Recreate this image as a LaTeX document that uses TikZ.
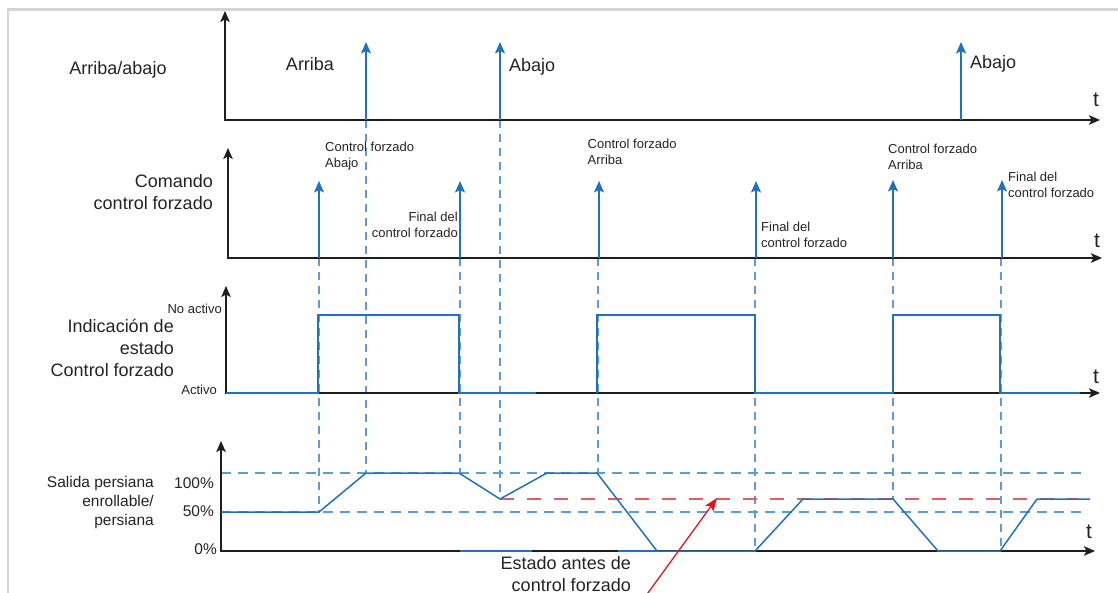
\documentclass[tikz,border=0pt]{standalone}
\usepackage{fontspec}
\setmainfont{Liberation Sans}
\usetikzlibrary{arrows.meta}
\definecolor{bl}{RGB}{33,114,190}
\definecolor{bll}{RGB}{95,155,212}
\definecolor{axc}{RGB}{30,30,30}
\definecolor{txt}{RGB}{35,35,35}
\definecolor{rd}{RGB}{228,20,35}
\definecolor{rdl}{RGB}{232,90,100}
\definecolor{frm}{RGB}{212,212,212}
\tikzset{
  axisline/.style={draw=axc, line width=1.7pt, {Stealth[length=11pt,width=9.5pt,inset=2.5pt]}-{Stealth[length=11pt,width=9.5pt,inset=2.5pt]}},
  pulse/.style={draw=bl, line width=1.6pt, -{Stealth[length=11.5pt,width=10pt,inset=2.5pt]}},
  guide/.style={draw=bll, line width=1.2pt, dash pattern=on 8pt off 6pt},
  hguide/.style={draw=bll, line width=1.2pt, dash pattern=on 10pt off 7pt},
  sig/.style={draw=bl, line width=1.5pt, line join=miter},
  reddash/.style={draw=rdl, line width=1.2pt, dash pattern=on 14pt off 13pt},
  big/.style={font=\fontsize{18}{22}\selectfont, text=txt, inner sep=0pt},
  mid/.style={font=\fontsize{15.5}{19}\selectfont, text=txt, inner sep=0pt},
  small/.style={font=\fontsize{13}{16}\selectfont, text=txt, inner sep=0pt},
  tlab/.style={font=\fontsize{21}{24}\selectfont, text=txt, inner sep=0pt},
}
\begin{document}
\begin{tikzpicture}[x=1pt,y=-1pt]
\useasboundingbox (0,0) rectangle (1118,593);
% frame
\draw[frm, line width=2.5pt] (8,593) -- (8,9.5) -- (1118,9.5);

% ---------- coordinates ----------
\coordinate (o1) at (225,120); \coordinate (y1) at (225,11); \coordinate (x1) at (1100,120);
\coordinate (o2) at (228,258); \coordinate (y2) at (228,148); \coordinate (x2) at (1102,258);
\coordinate (o3) at (226,393); \coordinate (y3) at (226,286); \coordinate (x3) at (1100,393);
\coordinate (o4) at (221,551); \coordinate (y4) at (221,441); \coordinate (x4) at (1095,551);

% ---------- guides (behind) ----------
\draw[guide] (319,258) coordinate (g1a) -- (319,512) coordinate (g1b);
\draw[guide] (366,120) coordinate (g2a) -- (366,473) coordinate (g2b);
\draw[guide] (460,258) coordinate (g3a) -- (460,473) coordinate (g3b);
\draw[guide] (500,120) coordinate (g4a) -- (500,499) coordinate (g4b);
\draw[guide] (598,258) coordinate (g5a) -- (598,473) coordinate (g5b);
\draw[guide] (755,258) coordinate (g6a) -- (755,551) coordinate (g6b);
\draw[guide] (893,258) coordinate (g7a) -- (893,499) coordinate (g7b);
\draw[guide] (1001,258) coordinate (g8a) -- (1001,551) coordinate (g8b);
\draw[hguide] (221,473) coordinate (h1a) -- (1081,473) coordinate (h1b);
\draw[hguide] (221,512) coordinate (h2a) -- (1081,512) coordinate (h2b);
\draw[reddash] (500,499) coordinate (r1a) -- (1078,499) coordinate (r1b);

% ---------- axes ----------
\draw[axisline] (y1) -- (o1) -- (x1);
\draw[axisline] (y2) -- (o2) -- (x2);
\draw[axisline] (y3) -- (o3) -- (x3);
\draw[axisline] (y4) -- (o4) -- (x4);

% ---------- panel 1 pulses ----------
\draw[pulse] (366,120) coordinate (p1a) -- (366,42) coordinate (p1b);
\draw[pulse] (500,120) coordinate (p2a) -- (500,42) coordinate (p2b);
\draw[pulse] (961,120) coordinate (p3a) -- (961,42) coordinate (p3b);

% ---------- panel 2 pulses ----------
\draw[pulse] (319,258) coordinate (q1a) -- (319,181) coordinate (q1b);
\draw[pulse] (460,258) coordinate (q2a) -- (460,181) coordinate (q2b);
\draw[pulse] (599,258) coordinate (q3a) -- (599,181) coordinate (q3b);
\draw[pulse] (756,258) coordinate (q4a) -- (756,181) coordinate (q4b);
\draw[pulse] (893,258) coordinate (q5a) -- (893,180) coordinate (q5b);
\draw[pulse] (1002,258) coordinate (q6a) -- (1002,180) coordinate (q6b);

% ---------- panel 3 signal ----------
\draw[sig] (226,393) -- (318,393) -- (318,315) -- (459,315) -- (459,393) -- (536,393);
\draw[sig] (597,393) -- (597,315) -- (755,315) -- (755,393) -- (893,393) -- (893,315) -- (1000,315) -- (1000,393) -- (1080,393);

% ---------- panel 4 signal ----------
\draw[sig] (221,512) -- (319,512) -- (366,473) -- (459,473) -- (500,499) -- (547,473) -- (597,473) -- (657,551) -- (755,551) -- (803,499) -- (893,499) -- (938,551) -- (1000,551) -- (1037,499) -- (1090,499);
\draw[sig] (460,551) -- (532,551);
\draw[sig] (618,551) -- (657,551);

% red arrow
\coordinate (ra) at (645,597);
\coordinate (rb) at (717,498);
\draw[rd, line width=1.3pt, -{Stealth[length=13pt,width=10pt,inset=2.5pt]}] (ra) -- (rb);

% ---------- labels ----------
\node[big] (lab1) at (118,70) {Arriba/abajo};
\node[big] (arr1) at (310,64) {Arriba};
\node[big, anchor=west] (aba1) at (509,67) {Abajo};
\node[big, anchor=west] (aba2) at (970,64) {Abajo};
\node[tlab, anchor=west] (t1) at (1093,100) {t};

\node[big, anchor=east, align=right] (lab2) at (213,192) {Comando\\control forzado};
\node[tlab, anchor=west] (t2) at (1094,241) {t};
\node[small, anchor=west, align=left] (c1) at (325,156.5) {Control forzado\\Abajo};
\node[small, anchor=east, align=right] (c2) at (458,224.5) {Final del\\control forzado};
\node[small, anchor=west, align=left] (c3) at (587.5,151.5) {Control forzado\\Arriba};
\node[small, anchor=west, align=left] (c4) at (761,234.5) {Final del\\control forzado};
\node[small, anchor=west, align=left] (c5) at (888,156.5) {Control forzado\\Arriba};
\node[small, anchor=west, align=left] (c6) at (1008,184.5) {Final del\\control forzado};

\node[small, anchor=east] (na) at (222,309) {No activo};
\node[small, anchor=east] (ac) at (217,390) {Activo};
\node[big, anchor=east, align=right] (lab3) at (174,348) {Indicación de\\estado\\Control forzado};
\node[tlab, anchor=west] (t3) at (1093,377) {t};

\node[mid, anchor=east, align=right] (lab4) at (154,502.5) {Salida persiana\\enrollable/\\persiana};
\node[mid, anchor=east] (p100) at (214,483) {100\%};
\node[mid, anchor=east] (p50) at (214,511) {50\%};
\node[mid, anchor=east] (p0) at (217,549) {0\%};
\node[tlab, anchor=west] (t4) at (1086,532) {t};
\node[big, anchor=east, align=right] (est) at (631,574) {Estado antes de\\control forzado};
\end{tikzpicture}
\end{document}
